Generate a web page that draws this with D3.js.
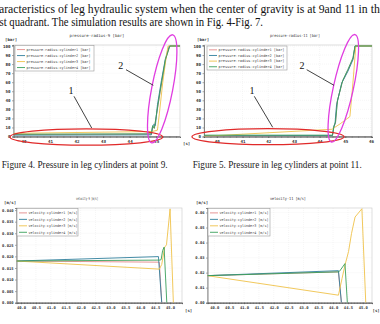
<!DOCTYPE html>
<html><head><meta charset="utf-8">
<script src="https://cdn.jsdelivr.net/npm/d3@7"></script>
<style>
html,body{margin:0;padding:0;background:#fff;overflow:hidden}
svg{display:block}
</style></head>
<body>
<svg id="c" width="380" height="324"></svg>
<script>
// ---------- DATA ----------
const introLines = [
  "aracteristics of leg hydraulic system when the center of gravity is at 9and 11 in the",
  "st quadrant. The simulation results are shown in Fig. 4-Fig. 7."
];
const captions = [
  "Figure 4. Pressure in leg cylinders at point 9.",
  "Figure 5. Pressure in leg cylinders at point 11."
];
const cylinderNames = ["cylinder1", "cylinder2", "cylinder3", "cylinder4"];
const seriesColors = ["#e48a8a", "#2f7f9c", "#efc24a", "#3a9f5a"];

const pressureTicksY = [0, 10, 20, 30, 40, 50, 60, 70, 80, 90, 100];
const pressure9TicksX = [40, 41, 42, 43, 44, 45];
const pressure11TicksX = [40, 41, 42, 43, 44, 45, 46];
const velocityTicksX = [40.0, 40.5, 41.0, 41.5, 42.0, 42.5, 43.0, 43.5, 44.0, 44.5, 45.0];
const velocity9TicksY = [0, 0.005, 0.01, 0.015, 0.02, 0.025, 0.03, 0.035, 0.04];
const velocity11TicksY = [0, 0.01, 0.02, 0.03, 0.04, 0.05, 0.06];

// pressure at point 9 [bar] : [time s, value]
const p9Cyl1 = [[39.62,2.2],[44.82,2.6],[44.87,11],[44.93,9],[45.0,21],[45.15,49],[45.35,84],[45.5,100],[45.9,100]];
const p9Cyl2 = [[39.62,1.5],[44.82,1.8],[44.86,10],[44.91,13.5],[44.97,12],[45.05,35],[45.2,62],[45.35,86],[45.5,100],[45.9,100]];
const p9Cyl3 = [[39.62,3.5],[44.85,5.5],[45.05,7],[45.12,25],[45.25,60],[45.4,92],[45.45,100],[45.9,100]];
const p9Cyl4 = [[39.62,2.5],[44.82,3],[44.87,12],[44.93,9],[45.0,22],[45.15,50],[45.35,85],[45.52,100],[45.9,100]];
// pressure at point 11 [bar]
const p11Cyl1 = [[39.5,0.6],[44.5,1],[44.56,11],[44.62,15],[44.68,38],[44.88,60],[45.1,73],[45.3,86],[45.38,100],[46.04,100]];
const p11Cyl2 = [[39.5,0.8],[44.5,1],[44.55,10],[44.6,14],[44.66,35],[44.86,59],[45.1,72],[45.3,85],[45.38,100],[46.04,100]];
const p11Cyl3 = [[39.5,0.2],[44.48,8],[44.8,14],[45.18,22],[45.3,60],[45.41,100],[46.04,100]];
const p11Cyl4 = [[39.5,1.5],[44.5,1.5],[44.56,12],[44.62,16],[44.7,40],[44.9,62],[45.1,74],[45.3,87],[45.38,100],[46.04,100]];
// velocity at point 9 [m/s]
const v9Cyl1 = [[39.85,0.018],[44.64,0.0175],[44.72,0]];
const v9Cyl2 = [[39.85,0.018],[44.61,0.0199],[44.72,0]];
const v9Cyl3 = [[39.85,0.018],[44.64,0.0145],[44.72,0.0165],[44.82,0.024],[44.88,0.025],[45.0,0.0405],[45.11,0]];
const v9Cyl4 = [[39.85,0.018],[44.66,0.0184],[44.7,0.0186],[44.75,0.0225],[44.8,0.024],[44.89,0]];
// velocity at point 11 [m/s]
const v11Cyl1 = [[39.76,0.018],[44.18,0.0205],[44.28,0]];
const v11Cyl2 = [[39.76,0.018],[44.18,0.0213],[44.28,0]];
const v11Cyl3 = [[39.76,0.018],[44.18,0.005],[44.3,0.016],[44.4,0.025],[44.52,0.034],[44.62,0.046],[44.74,0.057],[44.97,0.0625],[45.1,0]];
const v11Cyl4 = [[39.76,0.018],[44.18,0.0205],[44.22,0.021],[44.4,0.026],[44.48,0]];

// ---------- DRAW ----------
const svg = d3.select("#c");
const serif = "'Liberation Serif','Times New Roman',serif";
const mono = "'DejaVu Sans Mono',monospace";

// page text
svg.append("text").attr("x", -1).attr("y", 13).attr("font-family", serif).attr("font-size", 11.5)
  .attr("textLength", 386).attr("lengthAdjust", "spacingAndGlyphs").attr("fill", "#111").text(introLines[0]);
svg.append("text").attr("x", -0.5).attr("y", 26).attr("font-family", serif).attr("font-size", 11.5)
  .attr("textLength", 263.5).attr("lengthAdjust", "spacingAndGlyphs").attr("fill", "#111").text(introLines[1]);
svg.append("text").attr("x", 1.7).attr("y", 168).attr("font-family", serif).attr("font-size", 9.5)
  .attr("textLength", 166).attr("lengthAdjust", "spacingAndGlyphs").attr("fill", "#222").text(captions[0]);
svg.append("text").attr("x", 192.7).attr("y", 168).attr("font-family", serif).attr("font-size", 9.5)
  .attr("textLength", 169).attr("lengthAdjust", "spacingAndGlyphs").attr("fill", "#222").text(captions[1]);

function drawChart(cfg) {
  const g = svg.append("g");
  const x = d3.scaleLinear().domain(cfg.xDomain).range([cfg.left, cfg.right]);
  const y = d3.scaleLinear().domain(cfg.yDomain).range([cfg.bottom, cfg.top]);

  // grid
  g.append("g").selectAll("line").data(cfg.yTicks).join("line")
    .attr("x1", cfg.left).attr("x2", cfg.right).attr("y1", d => y(d)).attr("y2", d => y(d))
    .attr("stroke", "#ececec").attr("stroke-width", 0.5).attr("stroke-dasharray", "1,1");
  g.append("g").selectAll("line").data(cfg.xTicks).join("line")
    .attr("x1", d => x(d)).attr("x2", d => x(d)).attr("y1", cfg.top).attr("y2", cfg.bottom)
    .attr("stroke", "#ececec").attr("stroke-width", 0.5).attr("stroke-dasharray", "1,1");
  // frame
  g.append("rect").attr("x", cfg.left).attr("y", cfg.top)
    .attr("width", cfg.right - cfg.left).attr("height", cfg.bottom - cfg.top)
    .attr("fill", "none").attr("stroke", "#c8c8c8").attr("stroke-width", 0.6);

  // axes
  const ax = g.append("g").attr("transform", `translate(0,${cfg.bottom})`)
    .call(d3.axisBottom(x).tickValues(cfg.xTicks).tickFormat(cfg.xFmt).tickSize(1.5).tickPadding(2.5));
  const axMinor = g.append("g").attr("transform", `translate(0,${cfg.bottom})`)
    .call(d3.axisBottom(x).tickValues(cfg.xMinor).tickFormat("").tickSize(1.2));
  const ay = g.append("g").attr("transform", `translate(${cfg.left},0)`)
    .call(d3.axisLeft(y).tickValues(cfg.yTicks).tickFormat(cfg.yFmt).tickSize(1.5).tickPadding(1.5));
  [ax, axMinor, ay].forEach(a => {
    a.select(".domain").attr("stroke", "#555").attr("stroke-width", 0.7);
    a.selectAll(".tick line").attr("stroke", "#555").attr("stroke-width", 0.5);
    a.selectAll("text").attr("font-family", mono).attr("font-size", cfg.tickFont).attr("fill", "#333").attr("font-weight", "bold");
  });

  // series
  const line = d3.line().x(d => x(d[0])).y(d => y(d[1]));
  const clipId = "clip" + cfg.id;
  g.append("clipPath").attr("id", clipId).append("rect")
    .attr("x", cfg.left).attr("y", cfg.top).attr("width", cfg.right - cfg.left).attr("height", cfg.bottom - cfg.top);
  g.append("g").attr("clip-path", `url(#${clipId})`).selectAll("path").data(cfg.series).join("path")
    .attr("d", d => line(d)).attr("fill", "none")
    .attr("stroke", (d, i) => seriesColors[i]).attr("stroke-width", 0.9);

  // title & unit labels
  g.append("text").attr("x", cfg.titleX).attr("y", cfg.titleY).attr("text-anchor", "middle")
    .attr("font-family", mono).attr("font-size", 4).attr("fill", "#333")
    .attr("textLength", cfg.titleLen).attr("lengthAdjust", "spacingAndGlyphs").text(cfg.title);
  g.append("text").attr("x", cfg.unitX).attr("y", cfg.unitY).attr("font-family", mono)
    .attr("font-size", 4).attr("font-weight", "bold").attr("fill", "#333").text(cfg.yUnit);
  if (cfg.sX) g.append("text").attr("x", cfg.sX).attr("y", cfg.sY).attr("font-family", mono)
    .attr("font-size", 4).attr("font-weight", "bold").attr("fill", "#333").text("[s]");

  // legend
  const L = cfg.legend;
  g.append("rect").attr("x", L.x).attr("y", L.y).attr("width", L.w).attr("height", L.h)
    .attr("fill", "#fff").attr("stroke", "#999").attr("stroke-width", 0.6);
  const rows = g.append("g").selectAll("g").data(cylinderNames).join("g")
    .attr("transform", (d, i) => `translate(0,${L.y + L.h * (0.16 + i * 0.235)})`);
  rows.append("line").attr("x1", L.x + 2).attr("x2", L.x + 10).attr("stroke", (d, i) => seriesColors[i]).attr("stroke-width", 0.9);
  rows.append("text").attr("x", L.x + 11.5).attr("y", 1.3).attr("font-family", mono).attr("font-size", 3.6)
    .attr("fill", "#444").attr("textLength", L.textLen).attr("lengthAdjust", "spacingAndGlyphs")
    .text(d => `${cfg.prefix}-${d} ${cfg.unit}`);

  // annotations
  if (cfg.ann) {
    const A = cfg.ann;
    g.append("ellipse").attr("cx", A.red.cx).attr("cy", A.red.cy).attr("rx", A.red.rx).attr("ry", A.red.ry)
      .attr("fill", "none").attr("stroke", "#e02a2a").attr("stroke-width", 1.3);
    g.append("ellipse").attr("cx", 0).attr("cy", 0).attr("rx", A.mag.rx).attr("ry", A.mag.ry)
      .attr("transform", `translate(${A.mag.cx},${A.mag.cy}) rotate(${A.mag.rot})`)
      .attr("fill", "none").attr("stroke", "#e03de0").attr("stroke-width", 1.3);
    A.labels.forEach(l => {
      g.append("text").attr("x", l.tx).attr("y", l.ty).attr("text-anchor", "middle")
        .attr("font-family", serif).attr("font-size", 10).attr("fill", "#111").text(l.t);
      g.append("line").attr("x1", l.x1).attr("y1", l.y1).attr("x2", l.x2).attr("y2", l.y2)
        .attr("stroke", "#111").attr("stroke-width", 0.8);
    });
  }
}

const minorRange = (a, b, s) => d3.range(Math.round(a / s), Math.round(b / s) + 1).map(k => +(k * s).toFixed(3));

drawChart({
  id: 1, left: 13.5, right: 180, top: 45, bottom: 136.5,
  xDomain: [39.62, 45.9], yDomain: [0, 101.1],
  xTicks: pressure9TicksX, xMinor: minorRange(39.75, 45.75, 0.25), yTicks: pressureTicksY,
  xFmt: d3.format("d"), yFmt: d3.format("d"), tickFont: 4.2,
  series: [p9Cyl1, p9Cyl2, p9Cyl3, p9Cyl4],
  title: "pressure-radius-9 [bar]", titleX: 97, titleY: 36.5, titleLen: 55,
  yUnit: "[bar]", unitX: 5, unitY: 40.5, sX: 183, sY: 144.5,
  prefix: "pressure-radius", unit: "[bar]",
  legend: { x: 15, y: 45.5, w: 79, h: 25.5, textLen: 64 },
  ann: {
    red: { cx: 86.3, cy: 137, rx: 76.3, ry: 8.2 },
    mag: { cx: 162.2, cy: 88.8, rx: 10.5, ry: 55, rot: 11 },
    labels: [
      { t: "1", tx: 71, ty: 94, x1: 74, y1: 96.3, x2: 91.7, y2: 128 },
      { t: "2", tx: 120.7, ty: 68.7, x1: 126, y1: 69.7, x2: 153.3, y2: 85.3 }
    ]
  }
});

drawChart({
  id: 2, left: 204, right: 372, top: 45, bottom: 136.5,
  xDomain: [39.5, 46.04], yDomain: [0, 101.1],
  xTicks: pressure11TicksX, xMinor: minorRange(39.5, 46, 0.25), yTicks: pressureTicksY,
  xFmt: d3.format("d"), yFmt: d3.format("d"), tickFont: 4.2,
  series: [p11Cyl1, p11Cyl2, p11Cyl3, p11Cyl4],
  title: "pressure-radius-11 [bar]", titleX: 295, titleY: 36.5, titleLen: 50,
  yUnit: "[bar]", unitX: 197, unitY: 40.5,
  prefix: "pressure-radius", unit: "[bar]",
  legend: { x: 207, y: 46, w: 80, h: 24, textLen: 66 },
  ann: {
    red: { cx: 268, cy: 136.7, rx: 76, ry: 8 },
    mag: { cx: 343.3, cy: 88.3, rx: 10, ry: 55, rot: 12.3 },
    labels: [
      { t: "1", tx: 252, ty: 94, x1: 254.3, y1: 96.3, x2: 272.7, y2: 127.3 },
      { t: "2", tx: 302, ty: 68.7, x1: 306.7, y1: 69.7, x2: 334, y2: 85.3 }
    ]
  }
});

drawChart({
  id: 3, left: 16.5, right: 182, top: 208, bottom: 302.7,
  xDomain: [39.85, 45.4], yDomain: [0, 0.0409],
  xTicks: velocityTicksX, xMinor: minorRange(39.9, 45.4, 0.1), yTicks: velocity9TicksY,
  xFmt: d3.format(".1f"), yFmt: d3.format(".3f"), tickFont: 3.8,
  series: [v9Cyl1, v9Cyl2, v9Cyl3, v9Cyl4],
  title: "velocity-9 [m/s]", titleX: 87, titleY: 200, titleLen: 22,
  yUnit: "[m/s]", unitX: 4, unitY: 204, sX: 185, sY: 311.5,
  prefix: "velocity", unit: "[m/s]",
  legend: { x: 17, y: 208.5, w: 61, h: 27.5, textLen: 49 }
});

drawChart({
  id: 4, left: 207.5, right: 372, top: 208, bottom: 302.7,
  xDomain: [39.77, 45.31], yDomain: [0, 0.063],
  xTicks: velocityTicksX, xMinor: minorRange(39.8, 45.3, 0.1), yTicks: velocity11TicksY,
  xFmt: d3.format(".1f"), yFmt: d3.format(".2f"), tickFont: 3.8,
  series: [v11Cyl1, v11Cyl2, v11Cyl3, v11Cyl4],
  title: "velocity-11 [m/s]", titleX: 288, titleY: 200, titleLen: 36,
  yUnit: "[m/s]", unitX: 196, unitY: 204, sX: 372.5, sY: 311.5,
  prefix: "velocity", unit: "[m/s]",
  legend: { x: 208, y: 208.5, w: 62, h: 27.5, textLen: 49 }
});
</script>
</body></html>
